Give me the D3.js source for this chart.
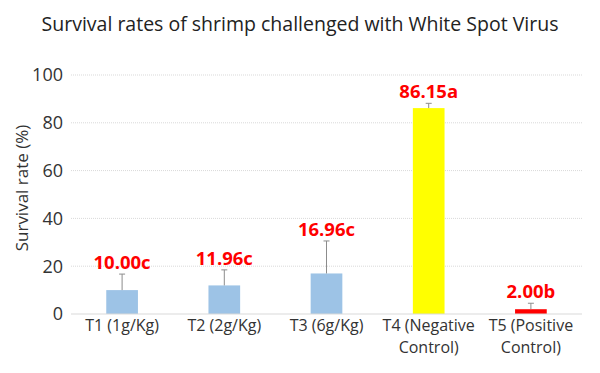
<!DOCTYPE html>
<html>
<head>
<meta charset="utf-8">
<script src="https://cdn.jsdelivr.net/npm/d3@7"></script>
<style>
  body { margin: 0; background: #fff; }
  #chart { width: 600px; height: 373px; }
  text { font-family: "Open Sans", "Lato", sans-serif; }
</style>
</head>
<body>
<div id="chart"></div>
<script>
// data
const categories = ["T1 (1g/Kg)", "T2 (2g/Kg)", "T3 (6g/Kg)", "T4 (Negative Control)", "T5 (Positive Control)"];
const labelLines = [["T1 (1g/Kg)"], ["T2 (2g/Kg)"], ["T3 (6g/Kg)"], ["T4 (Negative", "Control)"], ["T5 (Positive", "Control)"]];
const survival = [10.00, 11.96, 16.96, 86.15, 2.00];
const errors = [6.7, 6.5, 13.6, 2.0, 2.5];
const letters = ["c", "c", "c", "a", "b"];
const barColors = ["#9dc3e6", "#9dc3e6", "#9dc3e6", "#ffff00", "#ff0000"];
const yTicks = [0, 20, 40, 60, 80, 100];

document.addEventListener("DOMContentLoaded", function() {
    const width = 600, height = 373;
    const margin = {top: 75, right: 18, bottom: 59, left: 71};

    const svg = d3.select("#chart").append("svg")
        .attr("width", width)
        .attr("height", height);

    const g = svg.append("g").attr("transform", `translate(${margin.left},${margin.top})`);
    const innerW = width - margin.left - margin.right;
    const innerH = height - margin.top - margin.bottom;

    const x = d3.scaleBand().domain(categories).range([0, innerW]).paddingInner(0.69).paddingOuter(0.345);
    const y = d3.scaleLinear().domain([0, 100]).range([innerH, 0]);

    // gridlines
    g.selectAll(".grid").data(yTicks.filter(d => d > 0)).enter().append("line")
        .attr("x1", 0).attr("x2", innerW)
        .attr("y1", d => y(d)).attr("y2", d => y(d))
        .attr("stroke", "#d9d9d9")
        .attr("stroke-dasharray", "1,1");

    // y tick labels
    g.selectAll(".ytick").data(yTicks).enter().append("text")
        .attr("x", -8).attr("y", d => y(d))
        .attr("dy", "0.35em")
        .attr("text-anchor", "end")
        .style("font-size", "18px")
        .attr("fill", "#333")
        .text(d => d);

    // bars
    g.selectAll(".bar").data(survival).enter().append("rect")
        .attr("x", (d, i) => x(categories[i]))
        .attr("width", x.bandwidth())
        .attr("y", d => y(d))
        .attr("height", d => innerH - y(d))
        .attr("fill", (d, i) => barColors[i]);

    // error bars (upper only)
    const cx = i => x(categories[i]) + x.bandwidth() / 2;
    g.selectAll(".err").data(survival).enter().append("line")
        .attr("x1", (d, i) => cx(i)).attr("x2", (d, i) => cx(i))
        .attr("y1", d => y(d)).attr("y2", (d, i) => y(d + errors[i]))
        .attr("stroke", "#8c8c8c").attr("stroke-width", 1);
    g.selectAll(".cap").data(survival).enter().append("line")
        .attr("x1", (d, i) => cx(i) - 3).attr("x2", (d, i) => cx(i) + 3)
        .attr("y1", (d, i) => y(d + errors[i])).attr("y2", (d, i) => y(d + errors[i]))
        .attr("stroke", "#8c8c8c").attr("stroke-width", 1);

    // value labels
    g.selectAll(".val").data(survival).enter().append("text")
        .attr("x", (d, i) => cx(i))
        .attr("y", (d, i) => y(d + errors[i]) - 5)
        .attr("text-anchor", "middle")
        .style("font-size", "18.5px")
        .style("font-weight", "bold")
        .attr("fill", "#ff0000")
        .text((d, i) => d.toFixed(2) + letters[i]);

    // x axis line
    g.append("line")
        .attr("x1", 0).attr("x2", innerW)
        .attr("y1", innerH).attr("y2", innerH)
        .attr("stroke", "#d9d9d9");

    // category labels
    const catText = g.selectAll(".cat").data(labelLines).enter().append("text")
        .attr("text-anchor", "middle")
        .style("font-size", "16px")
        .attr("fill", "#333");
    catText.selectAll("tspan").data((d, i) => d.map(s => ({s, i}))).enter().append("tspan")
        .attr("x", d => cx(d.i))
        .attr("y", (d, j) => innerH + 17 + j * 22)
        .text(d => d.s);

    // y axis title
    svg.append("text")
        .attr("transform", `translate(28,${margin.top + 113}) rotate(-90)`)
        .attr("text-anchor", "middle")
        .style("font-size", "17px")
        .attr("fill", "#333")
        .text("Survival rate (%)");

    // title
    svg.append("text")
        .attr("x", width / 2).attr("y", 31)
        .attr("text-anchor", "middle")
        .style("font-size", "19.5px")
        .style("font-weight", "500")
        .attr("fill", "#222")
        .text("Survival rates of shrimp challenged with White Spot Virus");
});
</script>
</body>
</html>
